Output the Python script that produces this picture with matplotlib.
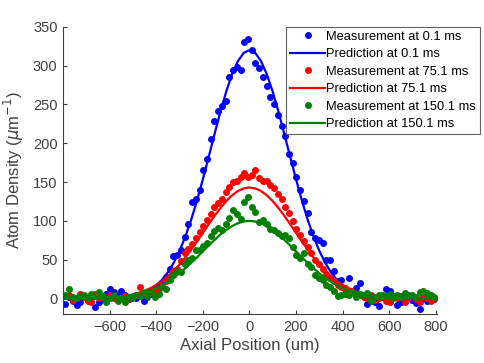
import numpy as np
import matplotlib
matplotlib.use("Agg")
import matplotlib.pyplot as plt

plt.rcParams['font.family'] = ['Liberation Sans', 'DejaVu Sans']

# measurement sample positions (um), uniform pixel grid
x_meas = np.arange(-790, 800, 16)

meas_01 = [-7, 2, -3, -9, -4, 3, -2, 1, -11, -4,
           0, 6, 12, 8, 3, 9, 5, -1, 2, 0,
           4, -3, 2, 6, 10, 16, 20, 28, 38, 55,
           56, 62, 79, 96, 124, 128, 140, 165, 180, 205,
           229, 241, 248, 254, 286, 295, 298, 294, 331, 334,
           320, 303, 297, 285, 274, 260, 250, 236, 222, 210,
           186, 174, 157, 140, 126, 110, 86, 78, 75, 72,
           49, 50, 36, 22, 24, 12, 27, 8, 14, 20,
           5, -7, 0, -4, -10, 2, 12, 9, 3, -9,
           -5, 0, 4, -2, -6, -13, 1, -3, 2, -1]

meas_75 = [3, 4, -2, 1, 6, 2, -3, -5, 6, 0,
           3, -2, 4, 1, -2, 0, 3, -1, 2, 5,
           15, 6, 4, 9, 8, 12, 16, 22, 28, 36,
           38, 48, 58, 64, 70, 78, 86, 93, 101, 109,
           118, 123, 128, 137, 144, 150, 152, 157, 162, 157,
           159, 165, 155, 152, 152, 146, 142, 135, 128, 118,
           110, 100, 90, 82, 74, 66, 58, 50, 44, 38,
           32, 26, 22, 18, 15, 13, 8, 10, 4, 6,
           2, 0, 4, -2, 1, 3, -3, -5, 2, 0,
           3, -4, 1, 3, -1, -4, 2, 0, -3, 1]

meas_150 = [4, 12, 2, 0, 3, 5, 1, 6, 3, 8,
            2, -5, 0, 4, -3, 1, -4, 2, 0, 5,
            3, 7, 3, 8, 2, 6, 15, 12, 24, 30,
            35, 34, 45, 50, 52, 62, 63, 68, 72, 80,
            87, 91, 88, 96, 104, 114, 109, 103, 124, 131,
            118, 112, 99, 101, 96, 90, 88, 84, 80, 82,
            78, 66, 56, 52, 58, 44, 40, 30, 26, 24,
            18, 15, 10, 3, 4, 6, 4, 8, 2, 5,
            4, 7, -3, 2, 4, 5, 3, 6, 1, 4,
            2, 7, 3, 5, 2, 8, 10, 7, 5, 2]

# prediction curves read every 25 um
x_pred = np.arange(-800, 801, 25)
half_01 = [320, 316.4, 305.6, 288.6, 266.3, 240.2, 211.7, 182.3, 153.5, 126.3,
           101.5, 79.8, 61.3, 46.0, 33.7, 24.2, 16.9, 11.6, 7.8, 5.1,
           3.3, 2.0, 1.2, 0.7, 0.4, 0.2, 0.1, 0.1, 0.0, 0.0,
           0.0, 0.0, 0.0]
half_75 = [143, 141.8, 138.4, 132.8, 125.4, 116.4, 106.4, 95.6, 84.5, 73.5,
           62.9, 52.9, 43.8, 35.7, 28.6, 22.5, 17.4, 13.3, 10.0, 7.4,
           5.3, 3.8, 2.7, 1.8, 1.3, 0.8, 0.6, 0.4, 0.2, 0.1,
           0.1, 0.1, 0.0]
half_150 = [100, 99.2, 96.9, 93.2, 88.2, 82.3, 75.5, 68.2, 60.7, 53.1,
            45.8, 38.9, 32.5, 26.7, 21.6, 17.2, 13.5, 10.5, 8.0, 6.0,
            4.4, 3.2, 2.3, 1.6, 1.1, 0.8, 0.5, 0.3, 0.2, 0.1,
            0.1, 0.1, 0.0]
pred_01 = half_01[:0:-1] + half_01
pred_75 = half_75[:0:-1] + half_75
pred_150 = half_150[:0:-1] + half_150

labels = ['Measurement at 0.1 ms', 'Prediction at 0.1 ms',
          'Measurement at 75.1 ms', 'Prediction at 75.1 ms',
          'Measurement at 150.1 ms', 'Prediction at 150.1 ms']

fig = plt.figure(figsize=(4.85, 3.63), dpi=100)
ax = fig.add_axes([0.130, 0.135, 0.771, 0.791])

series = [(meas_01, pred_01, (0, 0, 1)),
          (meas_75, pred_75, (1, 0, 0)),
          (meas_150, pred_150, (0, 0.5, 0))]
for k, (m, p, c) in enumerate(series):
    ax.plot(x_meas, m, 'o', color=c, markersize=5.0, markeredgewidth=0, label=labels[2*k])
    ax.plot(x_pred, p, '-', color=c, linewidth=1.6, label=labels[2*k+1])

ax.set_xlim(-800, 805)
ax.set_ylim(-20, 350)
ax.set_xticks(np.arange(-600, 801, 200))
ax.set_yticks(np.arange(0, 351, 50))

grey = '#404040'
for s in ['top', 'right']:
    ax.spines[s].set_visible(False)
for s in ['left', 'bottom']:
    ax.spines[s].set_color(grey)
    ax.spines[s].set_linewidth(0.8)
ax.tick_params(direction='in', length=3, colors=grey, labelsize=10.5, labelcolor=grey, pad=4)

ax.set_xlabel('Axial Position (um)', fontsize=12, color=grey, labelpad=3)
ax.set_ylabel(r'Atom Density ($\mu$m$^{-1}$)', fontsize=12, color=grey, labelpad=5)

leg = ax.legend(loc='upper right', bbox_to_anchor=(480/485, 1 - 27/363),
                bbox_transform=fig.transFigure, borderaxespad=0,
                fontsize=9.3, numpoints=1, handlelength=2.7, handletextpad=0.1,
                labelspacing=0.42, borderpad=0.3, fancybox=False, framealpha=1)
leg.get_frame().set_edgecolor('#606060')
leg.get_frame().set_linewidth(0.8)

fig.savefig('out.png', dpi=100)
